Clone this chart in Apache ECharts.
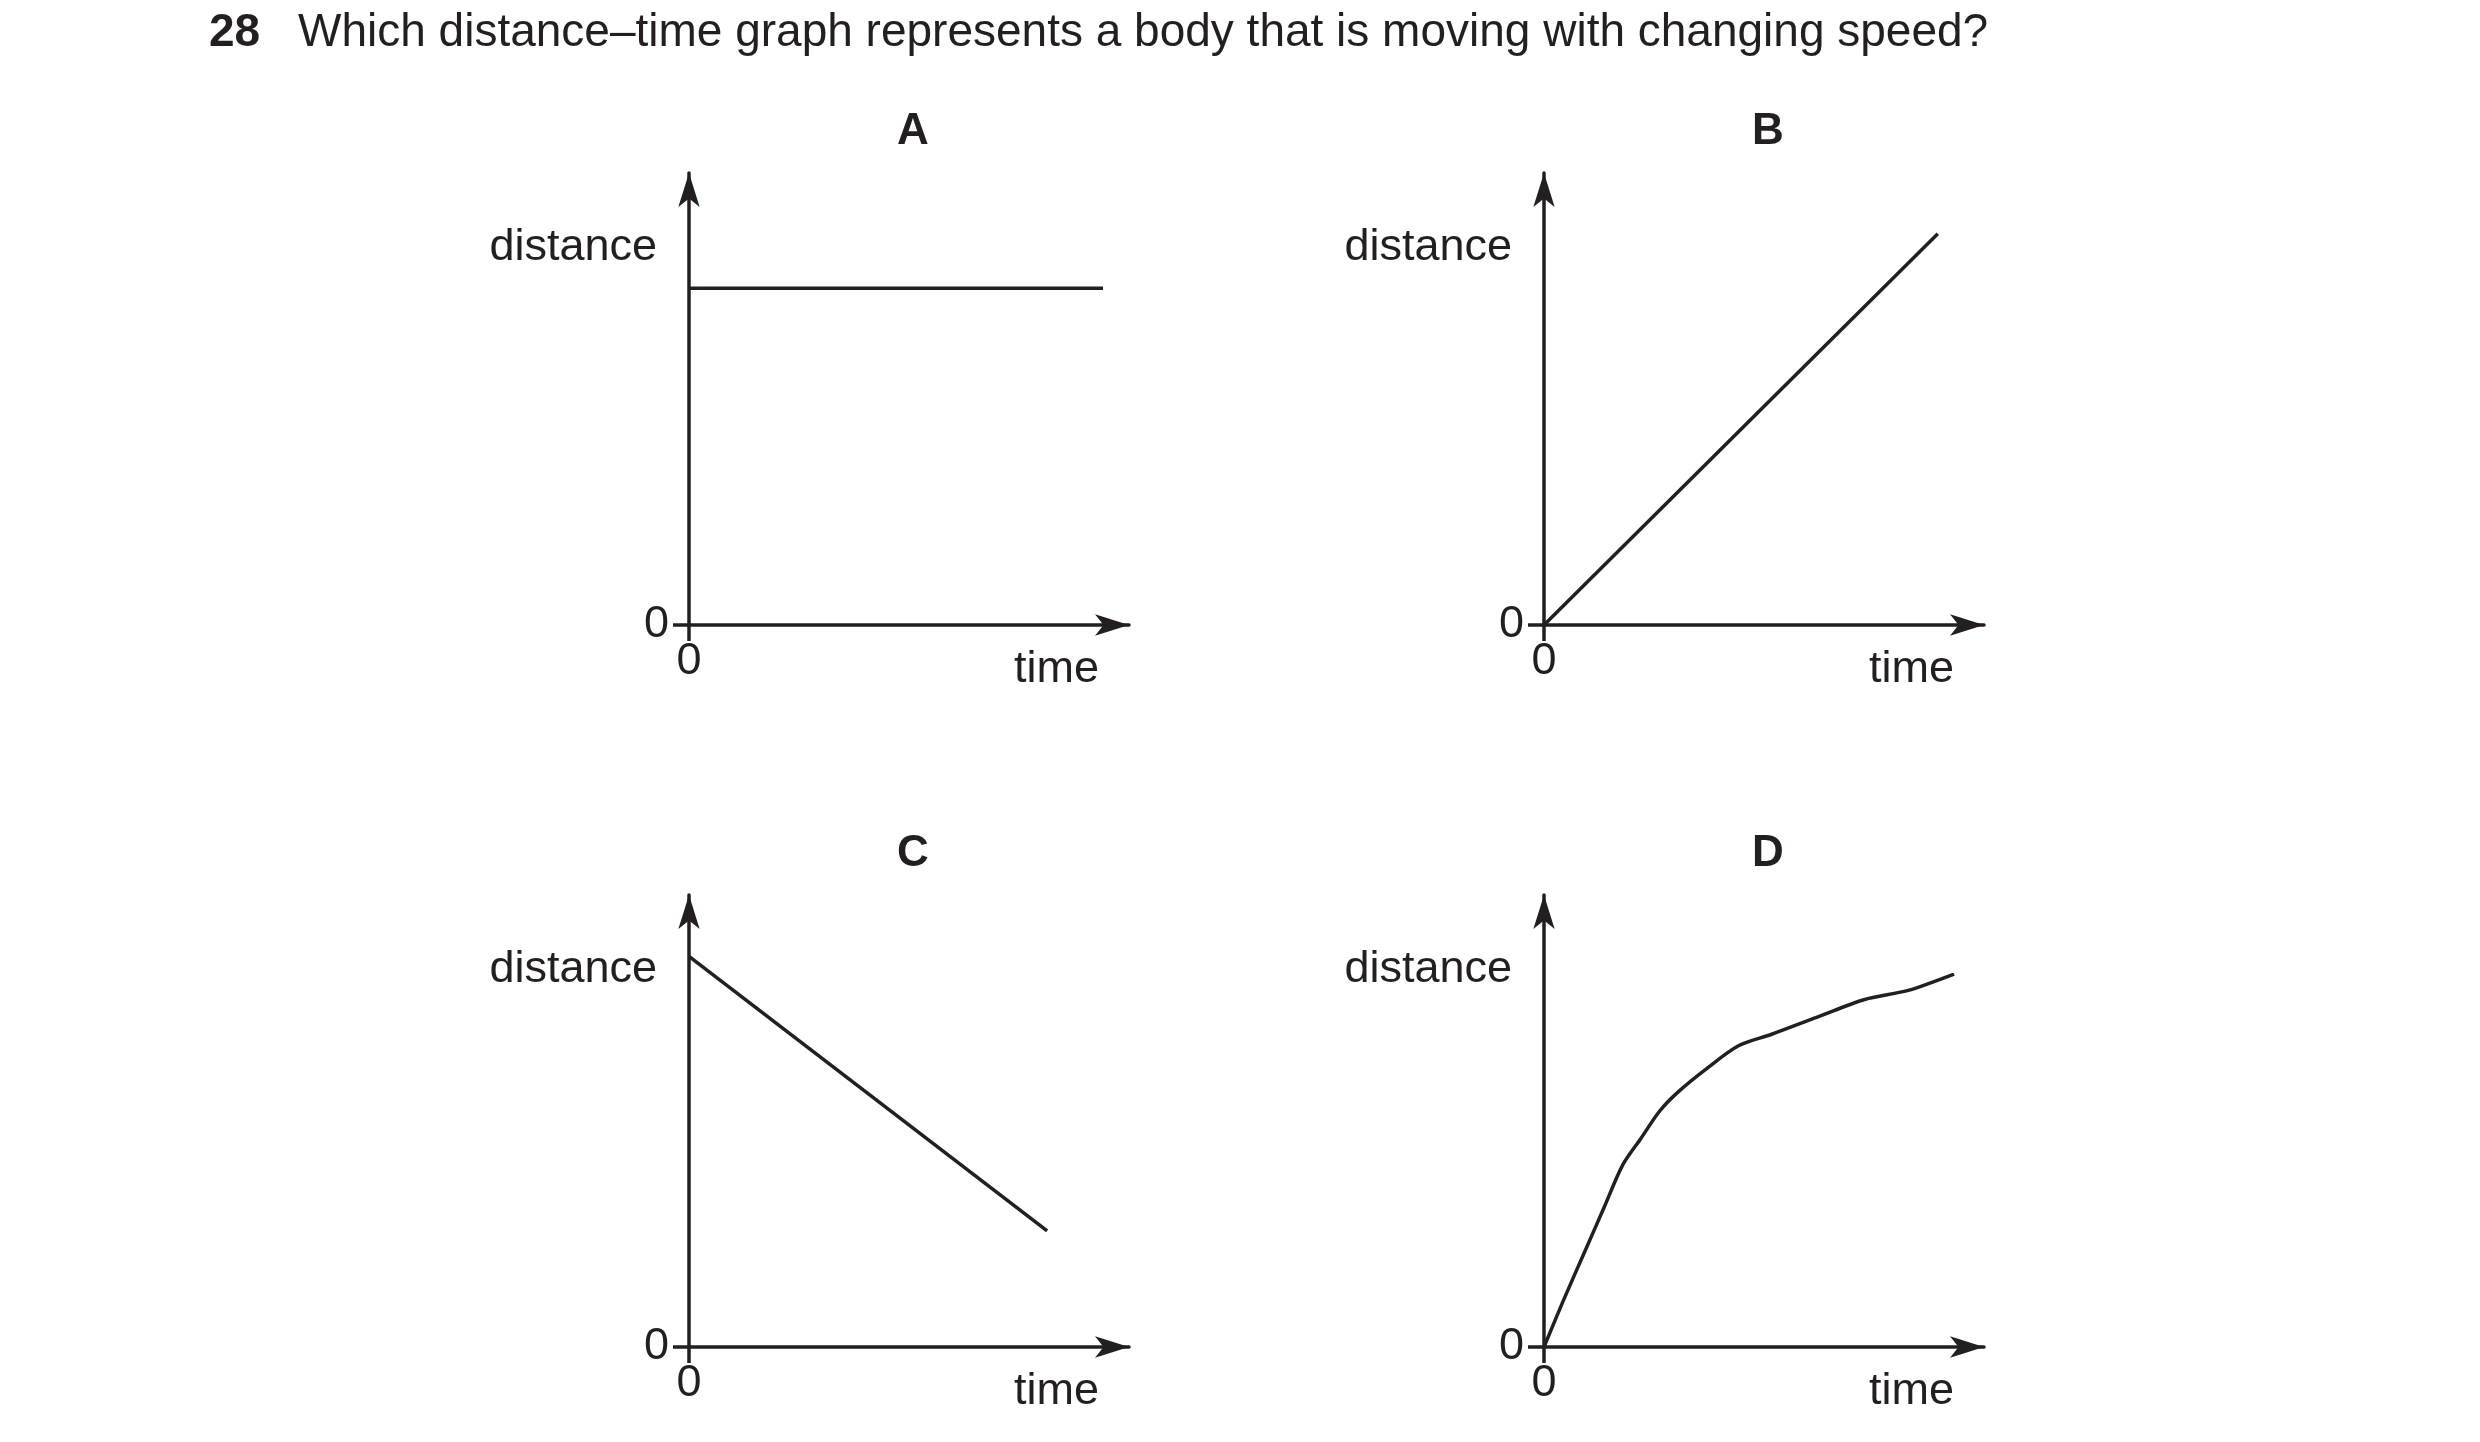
<!DOCTYPE html>
<html><head><meta charset="utf-8">
<script src="https://cdn.jsdelivr.net/npm/echarts@6/dist/echarts.min.js"></script>
<style>html,body{margin:0;background:#fff}#c{width:2480px;height:1442px}</style>
</head><body><div id="c"></div>
<script>
const panelLabels = ['A','B','C','D'];
const dataA = [[0,7.75],[9.41,7.75]];
const dataB = [[0,0],[8.95,9.0]];
const dataC = [[0,8.99],[8.14,2.67]];
const dataD = [[0,0],[0.42,1.02],[0.95,2.25],[1.37,3.22],[1.79,4.19],[2.21,4.81],[2.63,5.43],[3.05,5.87],[3.69,6.40],[4.42,6.93],[5.16,7.19],[6.21,7.59],[7.27,7.99],[8.30,8.21],[9.32,8.58]];
const seriesData = [dataA, dataB, dataC, dataD];
const axisName = 'distance', timeName = 'time';
const questionNo = '28', question = 'Which distance–time graph represents a body that is moving with changing speed?';

const F = 'Liberation Sans, Arial, sans-serif', C = '#231f20';
const lefts = [689, 1544, 689, 1544], tops = [173, 173, 895, 895];
const W = 440, H = 452;
const grids = [], xAxes = [], yAxes = [], series = [], graphics = [];
const axisLine = {show:true, onZero:false, symbol:['none','arrow'], symbolSize:[16,34], lineStyle:{color:C, width:3.5}};
for (let i = 0; i < 4; i++) {
  grids.push({left:lefts[i], top:tops[i], width:W, height:H});
  xAxes.push({type:'value', gridIndex:i, min:0, max:10, splitLine:{show:false},
    axisLine:axisLine,
    axisTick:{show:true, customValues:[0], length:16, lineStyle:{color:C,width:3.5}},
    axisLabel:{customValues:[0], fontFamily:F, fontSize:45, color:C, margin:14}});
  yAxes.push({type:'value', gridIndex:i, min:0, max:10.4, splitLine:{show:false},
    axisLine:axisLine,
    axisTick:{show:true, customValues:[0], length:16, lineStyle:{color:C,width:3.5}},
    axisLabel:{customValues:[0], fontFamily:F, fontSize:45, color:C, margin:20, verticalAlign:'middle'}});
  series.push({type:'line', xAxisIndex:i, yAxisIndex:i, data:seriesData[i], symbol:'none',
    smooth: i === 3 ? 0.3 : false, lineStyle:{color:C, width:3.5}, animation:false});
  graphics.push({type:'text', left:lefts[i]+208, top:tops[i]-63, style:{text:panelLabels[i], font:'bold 44px '+F, fill:C, textAlign:'center'}});
  graphics.push({type:'text', right:2480-(lefts[i]-32), top:tops[i]+52, style:{text:axisName, font:'45px '+F, fill:C, textAlign:'right'}});
  graphics.push({type:'text', left:lefts[i]+325, top:tops[i]+H+22, style:{text:timeName, font:'45px '+F, fill:C}});
}
graphics.push({type:'text', left:209, top:10, style:{text:questionNo, font:'bold 46px '+F, fill:C}});
graphics.push({type:'text', left:298, top:10, style:{text:question, font:'46px '+F, fill:C}});
const chart = echarts.init(document.getElementById('c'));
chart.setOption({animation:false, backgroundColor:'#fff', grid:grids, xAxis:xAxes, yAxis:yAxes, series:series, graphic:graphics});
</script></body></html>
